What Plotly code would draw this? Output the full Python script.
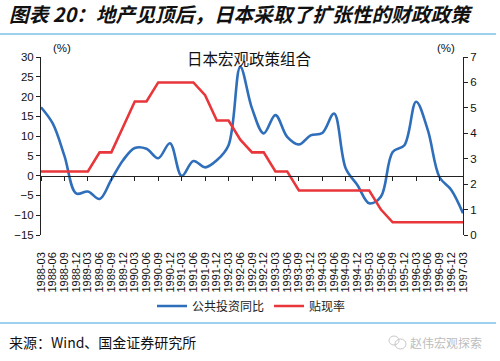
import plotly.graph_objects as go

# ---------------- data ----------------
quarters = [
    "1988-03", "1988-06", "1988-09", "1988-12",
    "1989-03", "1989-06", "1989-09", "1989-12",
    "1990-03", "1990-06", "1990-09", "1990-12",
    "1991-03", "1991-06", "1991-09", "1991-12",
    "1992-03", "1992-06", "1992-09", "1992-12",
    "1993-03", "1993-06", "1993-09", "1993-12",
    "1994-03", "1994-06", "1994-09", "1994-12",
    "1995-03", "1995-06", "1995-09", "1995-12",
    "1996-03", "1996-06", "1996-09", "1996-12",
    "1997-03",
]
public_invest_yoy = [
    17.3, 13.2, 5.0, -4.5, -4.0, -5.9, -1.0, 3.9,
    7.0, 6.8, 4.4, 8.2, -0.1, 3.7, 2.1, 3.9,
    7.7, 27.5, 17.0, 10.7, 15.3, 9.8, 7.9, 10.2,
    10.8, 15.7, 1.8, -2.4, -7.0, -5.3, 6.0, 7.7,
    18.7, 11.5, -0.4, -3.6, -9.5,
]
discount_rate = [
    2.5, 2.5, 2.5, 2.5, 2.5, 3.25, 3.25, 4.25,
    5.25, 5.25, 6.0, 6.0, 6.0, 6.0, 5.5, 4.5,
    4.5, 3.75, 3.25, 3.25, 2.5, 2.5, 1.75, 1.75,
    1.75, 1.75, 1.75, 1.75, 1.75, 1.0, 0.5, 0.5,
    0.5, 0.5, 0.5, 0.5, 0.5,
]
left_ticks = [-15, -10, -5, 0, 5, 10, 15, 20, 25, 30]
right_ticks = [0, 1, 2, 3, 4, 5, 6, 7]

# ---------------- layout geometry (pixels) ----------------
W, H = 500, 361
L, R, T, B = 41, 37, 57, 126
PW, PH = W - L - R, H - T - B


def px(x):
    return (x - L) / PW


def py(y):
    return (H - B - y) / PH


BLUE = "#2F6EBA"
RED = "#E8363A"
SEP = "#7CC2EA"
CJK = "Noto Sans CJK SC"
NUM = "Arial, Liberation Sans, sans-serif"

fig = go.Figure()
fig.add_trace(go.Scatter(
    x=quarters, y=public_invest_yoy, name="公共投资同比",
    mode="lines", line=dict(color=BLUE, width=2.6, shape="spline", smoothing=1.0),
    xaxis="x", yaxis="y", hoverinfo="skip",
))
fig.add_trace(go.Scatter(
    x=quarters, y=discount_rate, name="贴现率",
    mode="lines", line=dict(color=RED, width=2.6),
    xaxis="x", yaxis="y2", hoverinfo="skip",
))
# carrier for the zero-line category axis (no visible marks)
fig.add_trace(go.Scatter(
    x=quarters, y=[None] * len(quarters), mode="lines",
    xaxis="x2", yaxis="y", showlegend=False, hoverinfo="skip",
))

zero_pos = (0 - left_ticks[0]) / (left_ticks[-1] - left_ticks[0])

fig.update_layout(
    width=W, height=H,
    margin=dict(l=L, r=R, t=T, b=B, pad=0, autoexpand=False),
    paper_bgcolor="white", plot_bgcolor="white",
    showlegend=True,
    legend=dict(
        orientation="h", x=px(152), xanchor="left", xref="paper",
        y=py(306), yanchor="middle",
        font=dict(family=CJK, size=12, color="#222"),
        itemwidth=30, bgcolor="rgba(0,0,0,0)",
    ),
    xaxis=dict(
        type="category", categoryorder="array", categoryarray=quarters,
        range=[0, len(quarters) - 1],
        tickmode="array", tickvals=quarters, ticktext=quarters,
        tickangle=-90, ticks="", showline=False, showgrid=False, zeroline=False,
        tickfont=dict(family=NUM, size=11, color="#111"),
        ticklabelstandoff=14, automargin=False,
    ),
    xaxis2=dict(
        type="category", categoryorder="array", categoryarray=quarters,
        range=[0, len(quarters) - 1], overlaying="x",
        anchor="free", position=zero_pos, side="bottom",
        showline=True, linecolor="#222", linewidth=1,
        ticks="outside", ticklen=4, tickcolor="#222", tickwidth=1,
        showticklabels=False, showgrid=False, zeroline=False,
    ),
    yaxis=dict(
        range=[left_ticks[0], left_ticks[-1]], tickvals=left_ticks,
        showline=True, linecolor="#222", linewidth=1,
        ticks="outside", ticklen=4, tickcolor="#222",
        showgrid=False, zeroline=False, automargin=False,
        tickfont=dict(family=NUM, size=11.5, color="#111"),
    ),
    yaxis2=dict(
        range=[right_ticks[0], right_ticks[-1]], tickvals=right_ticks,
        overlaying="y", side="right", anchor="x",
        showline=True, linecolor="#222", linewidth=1,
        ticks="outside", ticklen=4, tickcolor="#222",
        showgrid=False, zeroline=False, automargin=False,
        tickfont=dict(family=NUM, size=11.5, color="#111"),
    ),
    shapes=[
        dict(type="line", xref="paper", yref="paper",
             x0=px(0), x1=px(496), y0=py(34), y1=py(34),
             line=dict(color=SEP, width=1.5)),
        dict(type="line", xref="paper", yref="paper",
             x0=px(0), x1=px(496), y0=py(323), y1=py(323),
             line=dict(color=SEP, width=1.5)),
        # watermark icon (two speech bubbles)
        dict(type="circle", xref="paper", yref="paper",
             x0=px(389), x1=px(399), y0=py(345), y1=py(336),
             line=dict(color="#C8C8C8", width=1)),
        dict(type="circle", xref="paper", yref="paper",
             x0=px(395), x1=px(406), y0=py(349), y1=py(339),
             line=dict(color="#C8C8C8", width=1)),
    ],
    annotations=[
        dict(text="<b><i>图表 20：地产见顶后，日本采取了扩张性的财政政策</i></b>",
             xref="paper", yref="paper", x=px(7), y=py(14),
             xanchor="left", yanchor="middle", showarrow=False,
             font=dict(family=CJK, size=19.7, color="#111")),
        dict(text="日本宏观政策组合", xref="paper", yref="paper",
             x=px(249), y=py(58), xanchor="center", yanchor="middle",
             showarrow=False, font=dict(family=CJK, size=15.5, color="#111")),
        dict(text="(%)", xref="paper", yref="paper",
             x=px(51), y=py(48), xanchor="left", yanchor="middle",
             showarrow=False, font=dict(family=NUM, size=11.5, color="#111")),
        dict(text="(%)", xref="paper", yref="paper",
             x=px(457), y=py(48), xanchor="right", yanchor="middle",
             showarrow=False, font=dict(family=NUM, size=11.5, color="#111")),
        dict(text="来源：Wind、国金证券研究所", xref="paper", yref="paper",
             x=px(7), y=py(342), xanchor="left", yanchor="middle",
             showarrow=False, font=dict(family=CJK, size=14, color="#111")),
        dict(text="赵伟宏观探索", xref="paper", yref="paper",
             x=px(484), y=py(342), xanchor="right", yanchor="middle",
             showarrow=False, font=dict(family=CJK, size=12, color="#BDBDBD")),
    ],
)

# remove the browser's default 8px page margin so the figure sits at (0,0)
fig.write_html(
    "out.html",
    config={"displayModeBar": False, "staticPlot": True},
    post_script="document.body.style.margin='0';",
)
